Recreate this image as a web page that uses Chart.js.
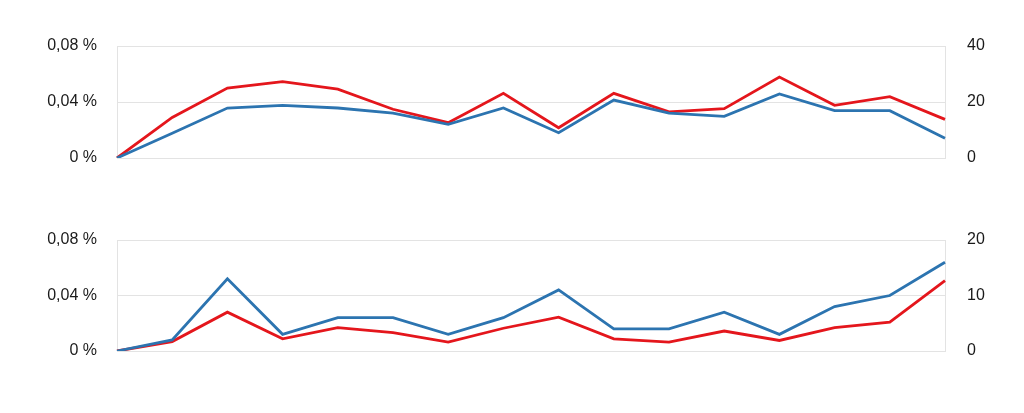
<!DOCTYPE html>
<html>
<head>
<meta charset="utf-8">
<script src="https://cdn.jsdelivr.net/npm/chart.js@4/dist/chart.umd.min.js"></script>
<style>
    html, body { margin: 0; padding: 0; background: #fff; }
    .panel { position: absolute; left: 0; width: 1024px; }
    #top-panel { top: 0; height: 206px; }
    #bottom-panel { top: 206px; height: 207px; }
</style>
</head>
<body>
<div class="panel" id="top-panel"><canvas id="grafica-arriba"></canvas></div>
<div class="panel" id="bottom-panel"><canvas id="grafica-abajo"></canvas></div>
<script>
(function () {

    const categorias = ['1', '2', '3', '4', '5', '6', '7', '8', '9', '10', '11', '12', '13', '14', '15', '16'];

    // panel superior
    const arribaAzulPct = [0, 0.0177, 0.0357, 0.0376, 0.0357, 0.032, 0.024, 0.0357, 0.018, 0.0414, 0.032, 0.0298, 0.0457, 0.0338, 0.0338, 0.0141];
    const arribaRojo = [0, 14.5, 25, 27.3, 24.6, 17.4, 12.6, 23.1, 10.8, 23.1, 16.5, 17.6, 28.9, 18.8, 21.9, 13.8];

    // panel inferior
    const abajoAzulPct = [0, 0.008, 0.052, 0.012, 0.024, 0.024, 0.012, 0.024, 0.044, 0.016, 0.016, 0.028, 0.012, 0.032, 0.04, 0.064];
    const abajoRojo = [0, 1.7, 7.0, 2.2, 4.2, 3.3, 1.6, 4.1, 6.1, 2.2, 1.6, 3.6, 1.9, 4.2, 5.2, 12.7];

    const ticksPct = [0, 0.04, 0.08];
    const ticksArriba = [0, 20, 40];
    const ticksAbajo = [0, 10, 20];

    const gris = '#e3e3e3';
    const fuente = { family: 'Liberation Sans, Arial, sans-serif', size: 16 };

    function formatoPct(v) {
        if (v === 0) return '0 %';
        return v.toFixed(2).replace('.', ',') + ' %';
    }

    function crearGrafica(id, azul, rojo, ticksDer, padTop, padBottom) {
        const ctx = document.getElementById(id).getContext('2d');
        new Chart(ctx, {
            type: 'line',
            data: {
                labels: categorias,
                datasets: [{
                    data: azul,
                    borderColor: '#2c74b0',
                    borderWidth: 2.8,
                    pointRadius: 0,
                    yAxisID: 'y'
                }, {
                    data: rojo,
                    borderColor: '#e4161c',
                    borderWidth: 2.8,
                    pointRadius: 0,
                    yAxisID: 'y2'
                }]
            },
            options: {
                responsive: true,
                maintainAspectRatio: false,
                animation: false,
                layout: { padding: { top: padTop, bottom: padBottom, left: 0, right: 0 } },
                plugins: {
                    legend: { display: false },
                    tooltip: { enabled: false }
                },
                scales: {
                    x: {
                        offset: false,
                        ticks: { display: false },
                        grid: {
                            drawTicks: false,
                            color: c => (c.index === 0 || c.index === categorias.length - 1) ? gris : 'transparent'
                        },
                        border: { color: gris }
                    },
                    y: {
                        position: 'left',
                        min: ticksPct[0],
                        max: ticksPct[ticksPct.length - 1],
                        afterBuildTicks: s => { s.ticks = ticksPct.map(v => ({ value: v })); },
                        afterFit: s => { s.width = 117; },
                        ticks: {
                            padding: 20,
                            color: '#1a1a1a',
                            font: fuente,
                            callback: v => formatoPct(v)
                        },
                        grid: { drawTicks: false, color: gris },
                        border: { display: false }
                    },
                    y2: {
                        position: 'right',
                        min: ticksDer[0],
                        max: ticksDer[ticksDer.length - 1],
                        afterBuildTicks: s => { s.ticks = ticksDer.map(v => ({ value: v })); },
                        afterFit: s => { s.width = 79; },
                        ticks: {
                            padding: 22,
                            color: '#1a1a1a',
                            font: fuente
                        },
                        grid: { display: false, drawTicks: false },
                        border: { display: false }
                    }
                }
            }
        });
    }

    crearGrafica('grafica-arriba', arribaAzulPct, arribaRojo, ticksArriba, 46, 48);
    crearGrafica('grafica-abajo', abajoAzulPct, abajoRojo, ticksAbajo, 34, 62);

})();
</script>
</body>
</html>
